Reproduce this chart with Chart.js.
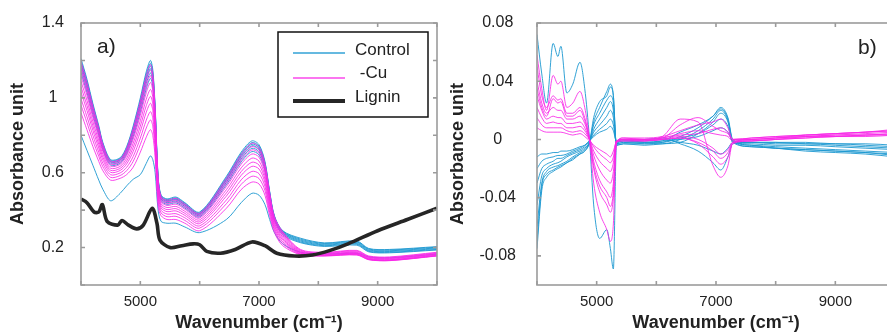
<!DOCTYPE html>
<html>
<head>
<meta charset="utf-8">
<script src="https://cdn.jsdelivr.net/npm/chart.js@4.4.1/dist/chart.umd.min.js"></script>
<style>
  html, body { margin: 0; padding: 0; background: #fff; }
  body { width: 887px; height: 335px; overflow: hidden; position: relative; }
  canvas { position: absolute; top: 0; }
  #chartA { left: 0; }
  #chartB { left: 440px; }
</style>
</head>
<body>
<canvas id="chartA" width="445" height="335"></canvas>
<canvas id="chartB" width="460" height="335"></canvas>
<script>
const FONT = "'Liberation Sans', Arial, sans-serif";

// ---- a) raw absorbance spectra ----
const wavenumbersA = [4000, 4100, 4200, 4300, 4370, 4500, 4660, 4770, 4880, 5000, 5100, 5170, 5210, 5250, 5300, 5350, 5450, 5600, 5750, 6000, 6450, 6700, 6880, 7000, 7100, 7180, 7260, 7400, 7700, 8100, 8650, 8850, 9200, 10000];

const controlA = [
    [1.21, 1.10, 0.97, 0.85, 0.76, 0.67, 0.68, 0.74, 0.85, 1.00, 1.14, 1.20, 1.15, 0.95, 0.58, 0.48, 0.46, 0.47, 0.44, 0.39, 0.58, 0.71, 0.77, 0.75, 0.66, 0.50, 0.37, 0.29, 0.25, 0.225, 0.235, 0.195, 0.19, 0.205],
    [1.198, 1.089, 0.961, 0.842, 0.754, 0.666, 0.676, 0.734, 0.841, 0.988, 1.126, 1.185, 1.136, 0.939, 0.574, 0.476, 0.456, 0.465, 0.436, 0.386, 0.573, 0.702, 0.761, 0.742, 0.653, 0.495, 0.366, 0.287, 0.245, 0.222, 0.231, 0.192, 0.187, 0.202],
    [1.187, 1.078, 0.952, 0.835, 0.748, 0.661, 0.671, 0.728, 0.832, 0.977, 1.112, 1.170, 1.122, 0.928, 0.567, 0.471, 0.451, 0.460, 0.431, 0.382, 0.566, 0.694, 0.752, 0.733, 0.646, 0.490, 0.363, 0.284, 0.24, 0.218, 0.227, 0.188, 0.183, 0.198],
    [1.175, 1.068, 0.942, 0.827, 0.742, 0.657, 0.667, 0.722, 0.824, 0.965, 1.098, 1.156, 1.108, 0.918, 0.561, 0.467, 0.447, 0.456, 0.427, 0.378, 0.560, 0.686, 0.744, 0.725, 0.638, 0.484, 0.359, 0.280, 0.235, 0.214, 0.222, 0.184, 0.179, 0.194],
    [1.158, 1.051, 0.929, 0.816, 0.733, 0.650, 0.660, 0.713, 0.810, 0.948, 1.077, 1.133, 1.087, 0.901, 0.551, 0.460, 0.440, 0.448, 0.420, 0.372, 0.549, 0.674, 0.730, 0.712, 0.628, 0.477, 0.354, 0.276, 0.23, 0.21, 0.218, 0.18, 0.175, 0.19],
    [1.135, 1.030, 0.910, 0.801, 0.721, 0.641, 0.651, 0.701, 0.793, 0.925, 1.049, 1.104, 1.059, 0.880, 0.538, 0.451, 0.431, 0.439, 0.411, 0.364, 0.536, 0.658, 0.713, 0.695, 0.613, 0.466, 0.347, 0.269, 0.226, 0.206, 0.213, 0.177, 0.172, 0.187],
    [0.80, 0.72, 0.64, 0.56, 0.51, 0.45, 0.49, 0.53, 0.565, 0.59, 0.65, 0.69, 0.67, 0.60, 0.40, 0.34, 0.33, 0.33, 0.31, 0.28, 0.35, 0.44, 0.49, 0.48, 0.43, 0.35, 0.28, 0.22, 0.175, 0.165, 0.17, 0.15, 0.145, 0.165]
];

const copperA = [
    [1.193, 1.084, 0.956, 0.839, 0.751, 0.663, 0.673, 0.731, 0.837, 0.983, 1.119, 1.178, 1.129, 0.934, 0.570, 0.473, 0.453, 0.463, 0.433, 0.384, 0.570, 0.698, 0.757, 0.737, 0.649, 0.492, 0.365, 0.285, 0.19, 0.175, 0.185, 0.155, 0.15, 0.175],
    [1.169, 1.062, 0.938, 0.823, 0.739, 0.655, 0.665, 0.719, 0.819, 0.959, 1.091, 1.148, 1.101, 0.912, 0.558, 0.465, 0.445, 0.453, 0.425, 0.376, 0.556, 0.682, 0.739, 0.721, 0.635, 0.482, 0.357, 0.279, 0.186, 0.172, 0.182, 0.152, 0.147, 0.172],
    [1.146, 1.041, 0.919, 0.808, 0.727, 0.646, 0.656, 0.707, 0.802, 0.936, 1.063, 1.119, 1.073, 0.891, 0.545, 0.456, 0.436, 0.444, 0.416, 0.368, 0.543, 0.666, 0.722, 0.704, 0.620, 0.471, 0.350, 0.272, 0.182, 0.169, 0.178, 0.149, 0.144, 0.169],
    [1.117, 1.014, 0.896, 0.789, 0.712, 0.635, 0.645, 0.692, 0.780, 0.907, 1.028, 1.082, 1.038, 0.864, 0.529, 0.445, 0.425, 0.432, 0.405, 0.358, 0.526, 0.646, 0.700, 0.683, 0.602, 0.458, 0.341, 0.264, 0.178, 0.166, 0.174, 0.146, 0.141, 0.166],
    [1.088, 0.987, 0.873, 0.770, 0.697, 0.624, 0.634, 0.677, 0.758, 0.878, 0.993, 1.045, 1.003, 0.837, 0.513, 0.434, 0.414, 0.420, 0.394, 0.348, 0.509, 0.626, 0.678, 0.662, 0.584, 0.445, 0.332, 0.256, 0.175, 0.163, 0.171, 0.143, 0.138, 0.163],
    [1.059, 0.960, 0.850, 0.751, 0.682, 0.613, 0.623, 0.662, 0.736, 0.849, 0.958, 1.008, 0.968, 0.810, 0.497, 0.423, 0.403, 0.408, 0.383, 0.338, 0.492, 0.606, 0.656, 0.641, 0.566, 0.432, 0.323, 0.248, 0.172, 0.16, 0.168, 0.14, 0.135, 0.16],
    [1.030, 0.933, 0.827, 0.732, 0.667, 0.602, 0.612, 0.647, 0.714, 0.820, 0.923, 0.971, 0.933, 0.783, 0.481, 0.412, 0.392, 0.396, 0.372, 0.328, 0.475, 0.586, 0.634, 0.620, 0.548, 0.419, 0.314, 0.240, 0.17, 0.158, 0.166, 0.138, 0.133, 0.158],
    [0.995, 0.900, 0.800, 0.709, 0.649, 0.589, 0.599, 0.629, 0.687, 0.785, 0.881, 0.926, 0.891, 0.750, 0.462, 0.399, 0.379, 0.381, 0.359, 0.316, 0.454, 0.562, 0.607, 0.595, 0.527, 0.404, 0.303, 0.231, 0.167, 0.157, 0.164, 0.137, 0.132, 0.157],
    [0.961, 0.868, 0.772, 0.687, 0.631, 0.575, 0.585, 0.611, 0.661, 0.751, 0.839, 0.882, 0.849, 0.718, 0.442, 0.385, 0.365, 0.367, 0.345, 0.304, 0.434, 0.538, 0.581, 0.569, 0.505, 0.388, 0.293, 0.221, 0.164, 0.156, 0.162, 0.136, 0.131, 0.156],
    [0.92, 0.83, 0.74, 0.66, 0.61, 0.56, 0.57, 0.59, 0.63, 0.71, 0.79, 0.83, 0.80, 0.68, 0.42, 0.37, 0.35, 0.35, 0.33, 0.29, 0.41, 0.51, 0.55, 0.54, 0.48, 0.37, 0.28, 0.21, 0.162, 0.155, 0.16, 0.135, 0.13, 0.155]
];

const ligninX = [4000, 4100, 4220, 4300, 4360, 4440, 4620, 4690, 4800, 4940, 5050, 5200, 5280, 5330, 5500, 5700, 5890, 6000, 6120, 6350, 6600, 6880, 7100, 7300, 7600, 7900, 8200, 8500, 9000, 9500, 10000];
const ligninY = [0.46, 0.44, 0.39, 0.39, 0.43, 0.34, 0.32, 0.345, 0.32, 0.30, 0.32, 0.41, 0.33, 0.24, 0.20, 0.21, 0.22, 0.215, 0.18, 0.17, 0.19, 0.23, 0.21, 0.17, 0.155, 0.16, 0.185, 0.22, 0.29, 0.35, 0.41];

// ---- b) pre-processed spectra ----
const wavenumbersB = [4000, 4080, 4160, 4270, 4350, 4400, 4500, 4600, 4720, 4800, 4880, 4950, 5050, 5170, 5230, 5280, 5330, 5450, 5800, 6100, 6400, 6700, 6950, 7080, 7200, 7280, 7600, 8000, 8500, 9000, 9500, 10000];

const controlB = [
    [0.072, 0.045, 0.025, 0.066, 0.057, 0.064, 0.032, 0.038, 0.053, 0.035, 0.0, -0.045, -0.068, -0.062, -0.075, -0.089, -0.005, 0.0, -0.002, -0.001, 0.005, 0.010, 0.016, 0.022, 0.015, 0.0, -0.004, -0.006, -0.007, -0.008, -0.009, -0.010],
    [-0.075, -0.035, -0.026, -0.022, -0.02, -0.019, -0.016, -0.014, -0.01, -0.008, -0.002, 0.012, 0.022, 0.033, 0.038, 0.03, -0.004, -0.003, -0.004, -0.003, -0.002, 0.004, 0.012, 0.018, 0.012, -0.002, -0.005, -0.006, -0.007, -0.008, -0.009, -0.011],
    [-0.06, -0.03, -0.022, -0.019, -0.018, -0.017, -0.015, -0.012, -0.009, -0.007, -0.002, 0.01, 0.018, 0.027, 0.03, 0.025, -0.003, -0.002, -0.003, -0.003, 0.0, 0.006, 0.014, 0.02, 0.013, -0.001, -0.004, -0.005, -0.006, -0.007, -0.008, -0.009],
    [-0.045, -0.025, -0.02, -0.017, -0.016, -0.015, -0.012, -0.01, -0.008, -0.006, -0.002, 0.007, 0.014, 0.022, 0.026, 0.02, -0.003, -0.002, -0.002, -0.002, 0.001, 0.004, 0.01, 0.014, 0.009, -0.002, -0.003, -0.004, -0.004, -0.005, -0.006, -0.007],
    [-0.03, -0.02, -0.017, -0.015, -0.013, -0.013, -0.011, -0.009, -0.007, -0.005, -0.001, 0.005, 0.01, 0.016, 0.02, 0.015, -0.002, -0.001, -0.002, -0.001, 0.0, 0.002, 0.006, 0.008, 0.005, -0.001, -0.002, -0.003, -0.003, -0.004, -0.005, -0.006],
    [-0.02, -0.015, -0.013, -0.012, -0.011, -0.011, -0.01, -0.008, -0.006, -0.004, -0.001, 0.003, 0.007, 0.011, 0.014, 0.01, -0.002, -0.001, -0.001, 0.0, -0.002, -0.004, -0.008, -0.01, -0.006, -0.002, -0.002, -0.002, -0.003, -0.003, -0.004, -0.005],
    [-0.012, -0.01, -0.01, -0.009, -0.009, -0.008, -0.008, -0.007, -0.005, -0.004, -0.001, 0.002, 0.005, 0.007, 0.009, 0.006, -0.001, 0.0, 0.0, 0.001, -0.003, -0.008, -0.016, -0.021, -0.012, -0.003, -0.002, -0.002, -0.002, -0.003, -0.003, -0.004],
    [-0.07, -0.032, -0.024, -0.021, -0.019, -0.018, -0.016, -0.013, -0.01, -0.008, -0.002, 0.015, 0.026, 0.03, 0.036, 0.03, -0.004, -0.003, -0.003, -0.002, 0.002, 0.008, 0.016, 0.021, 0.014, -0.001, -0.005, -0.006, -0.008, -0.009, -0.010, -0.012]
];

const copperB = [
    [0.058, 0.035, 0.02, 0.044, 0.038, 0.040, 0.022, 0.025, 0.033, 0.022, 0.0, -0.03, -0.05, -0.062, -0.07, -0.058, -0.003, 0.001, 0.0, 0.002, 0.014, 0.012, -0.018, -0.026, -0.018, -0.002, 0.0, 0.001, 0.003, 0.004, 0.005, 0.006],
    [0.05, 0.03, 0.022, 0.03, 0.027, 0.028, 0.018, 0.018, 0.022, 0.015, 0.0, -0.02, -0.036, -0.045, -0.05, -0.04, -0.002, 0.001, 0.001, 0.002, 0.006, 0.01, 0.012, 0.014, 0.008, 0.0, 0.001, 0.002, 0.003, 0.004, 0.005, 0.007],
    [0.04, 0.025, 0.018, 0.022, 0.02, 0.02, 0.014, 0.014, 0.016, 0.011, 0.0, -0.015, -0.028, -0.036, -0.04, -0.03, -0.002, 0.0, 0.0, 0.001, 0.004, 0.006, 0.004, 0.003, 0.002, -0.001, 0.0, 0.001, 0.002, 0.003, 0.004, 0.005],
    [0.03, 0.02, 0.014, 0.016, 0.015, 0.015, 0.011, 0.011, 0.012, 0.008, 0.0, -0.011, -0.021, -0.028, -0.03, -0.022, -0.001, 0.0, -0.001, 0.0, 0.002, 0.0, -0.006, -0.01, -0.007, -0.002, -0.001, 0.0, 0.002, 0.003, 0.003, 0.004],
    [0.022, 0.015, 0.011, 0.012, 0.011, 0.011, 0.008, 0.008, 0.009, 0.006, 0.0, -0.008, -0.015, -0.02, -0.022, -0.016, -0.001, -0.001, -0.001, 0.0, 0.001, -0.003, -0.012, -0.017, -0.012, -0.003, -0.001, 0.0, 0.001, 0.002, 0.003, 0.003],
    [0.015, 0.01, 0.008, 0.008, 0.008, 0.008, 0.006, 0.005, 0.006, 0.004, 0.0, -0.005, -0.01, -0.014, -0.016, -0.012, -0.001, 0.0, 0.0, 0.001, 0.003, 0.004, 0.007, 0.008, 0.005, 0.0, 0.0, 0.001, 0.002, 0.002, 0.003, 0.004],
    [0.008, 0.006, 0.005, 0.005, 0.005, 0.005, 0.004, 0.003, 0.004, 0.002, -0.001, -0.004, -0.007, -0.01, -0.012, -0.008, -0.002, -0.001, -0.001, 0.0, 0.001, -0.002, -0.008, -0.013, -0.009, -0.002, -0.001, 0.0, 0.001, 0.002, 0.002, 0.003],
    [0.035, 0.022, 0.016, 0.028, 0.025, 0.026, 0.016, 0.016, 0.02, 0.013, 0.0, -0.018, -0.032, -0.04, -0.046, -0.036, -0.002, 0.0, 0.0, 0.001, 0.01, 0.015, 0.009, 0.006, 0.004, 0.0, 0.001, 0.002, 0.003, 0.004, 0.005, 0.006]
];

// axis ticks and labels
const xTicks = [4000, 5000, 6000, 7000, 8000, 9000, 10000];
const xTickLabels = ['', '5000', '', '7000', '', '9000', ''];
const yTicksA = [0, 0.2, 0.4, 0.6, 0.8, 1, 1.2, 1.4];
const yTickLabelsA = ['', '0.2', '', '0.6', '', '1', '', '1.4'];
const yTicksB = [-0.08, -0.04, 0, 0.04, 0.08];
const yTickLabelsB = ['-0.08', '-0.04', '0', '0.04', '0.08'];
const legendLabels = ['Control', ' -Cu', 'Lignin'];

const CONTROL_COLOR = 'rgba(28,152,208,0.9)';
const CU_COLOR = 'rgba(248,40,232,0.85)';
const LIGNIN_COLOR = '#262626';

// panel a uses a rounded spline, panel b keeps monotone so the sharp flips stay clean
function spectrum(xs, ys, color, width, rounded) {
    const ds = {
        data: xs.map((x, i) => ({x: x, y: ys[i]})),
        borderColor: color,
        borderWidth: width,
        pointRadius: 0,
        fill: false
    };
    if (rounded) ds.tension = 0.3;
    else ds.cubicInterpolationMode = 'monotone';
    return ds;
}

// box around the plot with small inward tick marks on all four sides
const framePlugin = {
    id: 'frame',
    afterDatasetsDraw(chart) {
        const {ctx, chartArea: a, scales} = chart;
        ctx.save();
        ctx.strokeStyle = '#9b9b9b';
        ctx.lineWidth = 1.6;
        ctx.strokeRect(a.left, a.top, a.right - a.left, a.bottom - a.top);
        ctx.beginPath();
        for (const t of scales.x.ticks) {
            const px = scales.x.getPixelForValue(t.value);
            ctx.moveTo(px, a.bottom); ctx.lineTo(px, a.bottom - 4);
            ctx.moveTo(px, a.top); ctx.lineTo(px, a.top + 4);
        }
        for (const t of scales.y.ticks) {
            const py = scales.y.getPixelForValue(t.value);
            ctx.moveTo(a.left, py); ctx.lineTo(a.left + 4, py);
            ctx.moveTo(a.right, py); ctx.lineTo(a.right - 4, py);
        }
        ctx.stroke();
        ctx.restore();
    }
};

// "a)" / "b)" panel tags
const tagPlugin = {
    id: 'panelTag',
    afterDraw(chart, args, opts) {
        const ctx = chart.ctx;
        ctx.save();
        ctx.fillStyle = '#222';
        ctx.font = '21px ' + FONT;
        ctx.textBaseline = 'middle';
        ctx.fillText(opts.text, opts.x, opts.y);
        ctx.restore();
    }
};

// boxed legend drawn inside panel a
const boxLegendPlugin = {
    id: 'boxLegend',
    afterDraw(chart, args, opts) {
        if (!opts.show) return;
        const ctx = chart.ctx;
        ctx.save();
        ctx.strokeStyle = '#111';
        ctx.lineWidth = 1.5;
        ctx.strokeRect(278, 32, 150, 85);
        const rows = [
            {label: legendLabels[0], color: CONTROL_COLOR, width: 1.3, lineY: 53, textY: 50},
            {label: legendLabels[1], color: CU_COLOR, width: 1.3, lineY: 78, textY: 73},
            {label: legendLabels[2], color: LIGNIN_COLOR, width: 4, lineY: 101, textY: 97}
        ];
        ctx.font = '17px ' + FONT;
        ctx.textBaseline = 'middle';
        for (const r of rows) {
            ctx.beginPath();
            ctx.strokeStyle = r.color;
            ctx.lineWidth = r.width;
            ctx.moveTo(293, r.lineY);
            ctx.lineTo(345, r.lineY);
            ctx.stroke();
            ctx.fillStyle = '#222';
            ctx.fillText(r.label, 355, r.textY);
        }
        ctx.restore();
    }
};

function axes(yMin, yMax, yTicks, yLabels, yWidth, yPad) {
    return {
        x: {
            type: 'linear', min: 4000, max: 10000,
            afterBuildTicks: s => { s.ticks = xTicks.map(v => ({value: v})); },
            afterFit: s => { s.height = 50; },
            grid: {display: false},
            border: {display: false},
            ticks: {
                autoSkip: false, maxRotation: 0, padding: 0, color: '#222',
                font: {family: FONT, size: 15},
                callback: (v, i) => xTickLabels[i]
            },
            title: {
                display: true, text: 'Wavenumber (cm\u207B\u00B9)', color: '#222',
                font: {family: FONT, size: 18, weight: 'bold'},
                padding: {top: 0, bottom: 1}
            }
        },
        y: {
            type: 'linear', min: yMin, max: yMax,
            afterBuildTicks: s => { s.ticks = yTicks.map(v => ({value: v})); },
            afterFit: s => { s.width = yWidth; },
            grid: {display: false},
            border: {display: false},
            ticks: {
                autoSkip: false, padding: yPad, crossAlign: 'center', color: '#222',
                font: {family: FONT, size: 16},
                callback: (v, i) => yLabels[i]
            },
            title: {
                display: true, text: 'Absorbance unit', color: '#222',
                font: {family: FONT, size: 18, weight: 'bold'},
                padding: {top: 7, bottom: 0}
            }
        }
    };
}

const datasetsA = [spectrum(ligninX, ligninY, LIGNIN_COLOR, 3.6, true)]
    .concat(copperA.map(ys => spectrum(wavenumbersA, ys, CU_COLOR, 1, true)))
    .concat(controlA.map(ys => spectrum(wavenumbersA, ys, CONTROL_COLOR, 1, true)));

const datasetsB = copperB.map(ys => spectrum(wavenumbersB, ys, CU_COLOR, 1, false))
    .concat(controlB.map(ys => spectrum(wavenumbersB, ys, CONTROL_COLOR, 1, false)));

new Chart(document.getElementById('chartA'), {
    type: 'line',
    data: {datasets: datasetsA},
    options: {
        responsive: false,
        animation: false,
        layout: {padding: {left: 0, right: 8, top: 23, bottom: 0}},
        scales: axes(0, 1.4, yTicksA, yTickLabelsA, 81, 9),
        plugins: {
            legend: {display: false},
            tooltip: {enabled: false},
            panelTag: {text: 'a)', x: 97, y: 47},
            boxLegend: {show: true}
        }
    },
    plugins: [framePlugin, tagPlugin, boxLegendPlugin]
});

new Chart(document.getElementById('chartB'), {
    type: 'line',
    data: {datasets: datasetsB},
    options: {
        responsive: false,
        animation: false,
        layout: {padding: {left: 0, right: 5, top: 23, bottom: 0}},
        scales: axes(-0.1, 0.08, yTicksB, yTickLabelsB, 97, 13),
        plugins: {
            legend: {display: false},
            tooltip: {enabled: false},
            panelTag: {text: 'b)', x: 418, y: 48},
            boxLegend: {show: false}
        }
    },
    plugins: [framePlugin, tagPlugin, boxLegendPlugin]
});
</script>
</body>
</html>
